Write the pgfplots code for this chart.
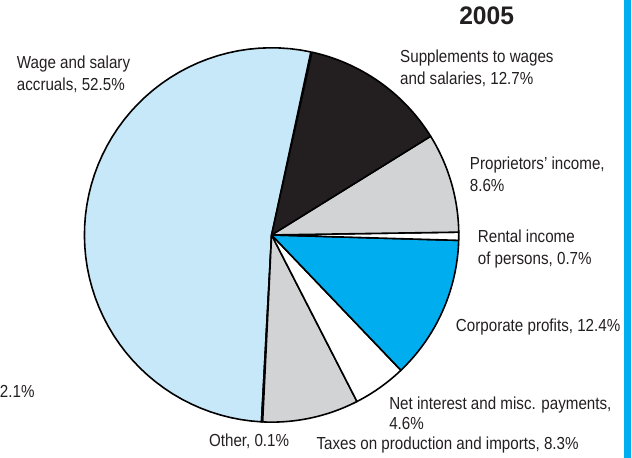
\documentclass[border=0pt]{standalone}
\usepackage{pgfplots}
\pgfplotsset{compat=1.18}
\usepackage{pgfplotstable}
\usepackage{fontspec}
\setmainfont{Liberation Sans}[FakeStretch=0.87]
\newfontfamily\titlefont{Liberation Sans}[FakeStretch=0.97]
\definecolor{wagecol}{RGB}{199,232,249}
\definecolor{darkc}{RGB}{35,31,32}
\definecolor{grayc}{RGB}{209,211,212}
\definecolor{corpc}{RGB}{0,174,239}
\definecolor{txt}{RGB}{35,31,32}
\tikzset{lbl/.style={anchor=base west, font=\fontsize{17.5bp}{21bp}\selectfont, text=txt, inner sep=0pt}}

\pgfplotstableread{
value fillc
52.5 wagecol
0.1 darkc
8.3 grayc
4.6 white
12.4 corpc
0.7 white
8.6 grayc
12.7 darkc
}\piedata

\begin{document}
\begin{tikzpicture}
\begin{axis}[x=1bp,y=1bp,xmin=0,xmax=632,ymin=0,ymax=460,
  hide axis, clip=false, scale only axis]
\path (axis cs:0,0) rectangle (axis cs:632,460);
\fill[corpc] (axis cs:624,0) rectangle (axis cs:631,460);
\xdef\cum{77.9}
\foreach \i in {0,...,7}{
  \pgfplotstablegetelem{\i}{value}\of\piedata
  \let\v=\pgfplotsretval
  \pgfplotstablegetelem{\i}{fillc}\of\piedata
  \let\c=\pgfplotsretval
  \pgfmathsetmacro\a{\cum}
  \pgfmathsetmacro\b{\cum+3.6*\v}
  \xdef\cum{\b}
  \edef\doslice{\noexpand\addplot[draw=black, line width=1.6bp, fill=\c, line join=round, domain=\a:\b, samples=60, variable=\noexpand\t] ({270+188*cos(\noexpand\t)},{224+188*sin(\noexpand\t)}) -- (axis cs:270,224) -- cycle;}
  \doslice
}
\node[anchor=base, inner sep=0pt, text=txt, font=\titlefont\bfseries\fontsize{25.5bp}{25.5bp}\selectfont] at (axis cs:486,435) {2005};
\node[lbl] at (axis cs:14,391) {Wage and salary};
\node[lbl] at (axis cs:14,369.5) {accruals, 52.5\%};
\node[lbl] at (axis cs:399,397) {Supplements to wages};
\node[lbl] at (axis cs:399,375.5) {and salaries, 12.7\%};
\node[lbl] at (axis cs:469,289.5) {Proprietors’ income,};
\node[lbl] at (axis cs:469,267.5) {8.6\%};
\node[lbl] at (axis cs:477,216) {Rental income};
\node[lbl] at (axis cs:477,194) {of persons, 0.7\%};
\node[lbl] at (axis cs:455,127) {Corporate profits, 12.4\%};
\node[lbl] at (axis cs:388,49) {Net interest and misc. payments,};
\node[lbl] at (axis cs:388,28.5) {4.6\%};
\node[lbl] at (axis cs:207,12) {Other, 0.1\%};
\node[lbl] at (axis cs:315,9) {Taxes on production and imports, 8.3\%};
\node[lbl] at (axis cs:-3,61) {2.1\%};
\end{axis}
\end{tikzpicture}
\end{document}
